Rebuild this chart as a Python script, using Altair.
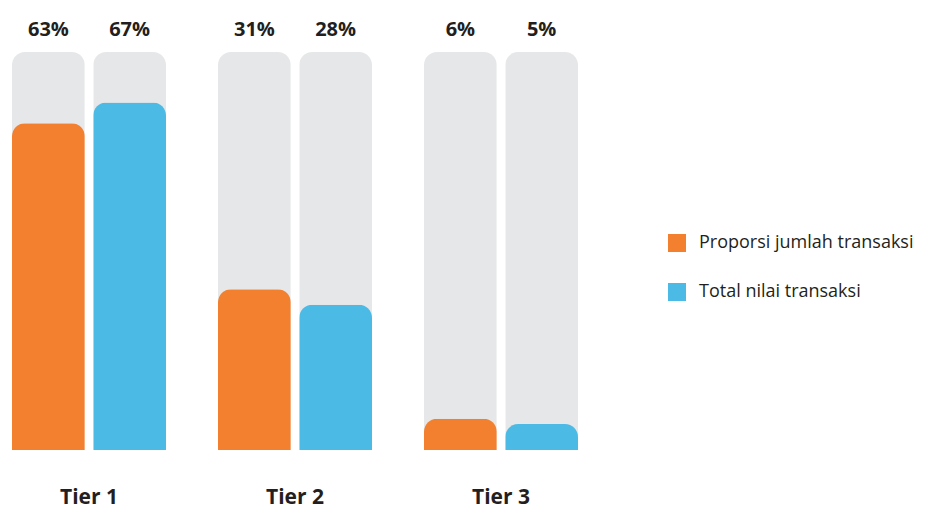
import altair as alt
import pandas as pd

tiers = ["Tier 1", "Tier 2", "Tier 3"]
series = ["Proporsi jumlah transaksi", "Total nilai transaksi"]
proporsi = [63, 31, 6]
total_nilai = [67, 28, 5]
track_max = 76.7  # height of the grey track behind each bar
colors = ["#F3802F", "#4BBBE6"]

rows = []
for i, t in enumerate(tiers):
    for s, vals in zip(series, [proporsi, total_nilai]):
        rows.append({"tier": t, "series": s, "value": vals[i],
                     "track": track_max, "label": f"{vals[i]}%"})
df = pd.DataFrame(rows)

FONT = "Open Sans"

x = alt.X("tier:N", sort=tiers, title=None,
          scale=alt.Scale(paddingInner=0.2524, paddingOuter=0.0194),
          axis=alt.Axis(domain=False, ticks=False, labelAngle=0,
                        labelFontSize=21, labelFontWeight="bold",
                        labelColor="#231F20", labelFont=FONT,
                        labelPadding=36, labelBaseline="top"))
xo = alt.XOffset("series:N", sort=series,
                 scale=alt.Scale(paddingInner=0.104, paddingOuter=0))
yscale = alt.Scale(domain=[0, 85.2], nice=False)

base = alt.Chart(df)

track = base.mark_bar(color="#E6E7E8", cornerRadiusTopLeft=13,
                      cornerRadiusTopRight=13).encode(
    x=x, xOffset=xo,
    y=alt.Y("track:Q", scale=yscale, axis=None),
)

bars = base.mark_bar(cornerRadiusTopLeft=13, cornerRadiusTopRight=13).encode(
    x=x, xOffset=xo,
    y=alt.Y("value:Q", scale=yscale, axis=None),
    color=alt.Color("series:N", sort=series,
                    scale=alt.Scale(domain=series, range=colors),
                    legend=alt.Legend(title=None, orient="none",
                                      legendX=660, legendY=226,
                                      symbolType="square", symbolSize=324,
                                      symbolStrokeWidth=0,
                                      labelFontSize=18, labelFont=FONT,
                                      labelLimit=400,
                                      labelColor="#231F20", labelOffset=13,
                                      rowPadding=31, padding=0)),
)

labels = base.mark_text(fontSize=20, fontWeight="bold", font=FONT,
                        color="#231F20", baseline="middle").encode(
    x=x, xOffset=xo,
    y=alt.value(22),
    text="label:N",
)

chart = alt.layer(track, bars, labels).properties(
    width=574, height=442, padding=0
).configure_view(stroke=None)

chart.save("out.html", embed_options={"renderer": "svg", "actions": False})
